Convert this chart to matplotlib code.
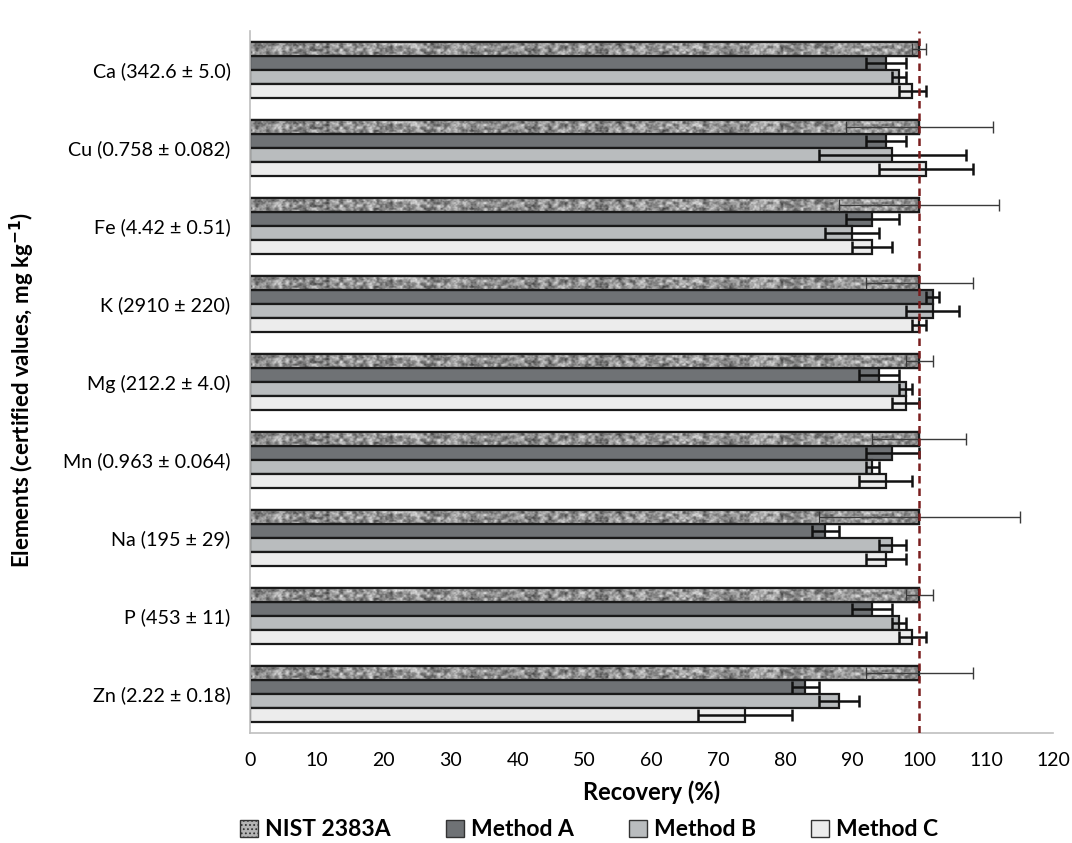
import numpy as np
import matplotlib
matplotlib.use("Agg")
import matplotlib.pyplot as plt
from matplotlib.patches import Patch, Rectangle

categories = ["Ca (342.6 ± 5.0)", "Cu (0.758 ± 0.082)", "Fe (4.42 ± 0.51)", "K (2910 ± 220)",
              "Mg (212.2 ± 4.0)", "Mn (0.963 ± 0.064)", "Na (195 ± 29)", "P (453 ± 11)",
              "Zn (2.22 ± 0.18)"]
series_names = ["NIST 2383A", "Method A", "Method B", "Method C"]
nist = [100, 100, 100, 100, 100, 100, 100, 100, 100]
nist_err = [1, 11, 12, 8, 2, 7, 15, 2, 8]
method_a = [95, 95, 93, 102, 94, 96, 86, 93, 83]
method_a_err = [3, 3, 4, 1, 3, 4, 2, 3, 2]
method_b = [97, 96, 90, 102, 98, 93, 96, 97, 88]
method_b_err = [1, 11, 4, 4, 1, 1, 2, 1, 3]
method_c = [99, 101, 93, 100, 98, 95, 95, 99, 74]
method_c_err = [2, 7, 3, 1, 2, 4, 3, 2, 7]
reference_line = 100

plt.rcParams['font.family'] = ['Lato', 'DejaVu Sans']
plt.rcParams['hatch.color'] = '#e0e0e0'
plt.rcParams['hatch.linewidth'] = 0.8


def hash_grid(h, w, seed):
    j, i = np.mgrid[0:h, 0:w].astype(float)
    v = np.sin(i * 127.1 + j * 311.7 + seed * 74.7) * 43758.5453
    return v - np.floor(v)


def upsample(g, H, W):
    h, w = g.shape
    ys = np.linspace(0, h - 1.001, H)
    xs = np.linspace(0, w - 1.001, W)
    y0 = np.floor(ys).astype(int)
    x0 = np.floor(xs).astype(int)
    fy = (ys - y0)[:, None]
    fx = (xs - x0)[None, :]
    fy = fy * fy * (3 - 2 * fy)
    fx = fx * fx * (3 - 2 * fx)
    a = g[y0][:, x0]
    b = g[y0][:, x0 + 1]
    c = g[y0 + 1][:, x0]
    d = g[y0 + 1][:, x0 + 1]
    return a * (1 - fx) * (1 - fy) + b * fx * (1 - fy) + c * (1 - fx) * fy + d * fx * fy


# texture (style only): bar is ~14 px tall x 670 px wide
TH, TW = 28, 1340
tex = (0.55 * upsample(hash_grid(6, 200, 1), TH, TW)
       + 0.30 * upsample(hash_grid(11, 400, 2), TH, TW)
       + 0.15 * upsample(hash_grid(20, 700, 3), TH, TW))
tex = (tex - tex.min()) / (tex.max() - tex.min())

fig = plt.figure(figsize=(10.72, 8.43), dpi=100)
ax = fig.add_axes([250/1072, (843-733)/843, 803/1072, 702/843])

n = len(categories)
y = np.arange(n)
bh = 0.18
offsets = [-0.27, -0.09, 0.09, 0.27]
values = [nist, method_a, method_b, method_c]
errs = [nist_err, method_a_err, method_b_err, method_c_err]
colors = ['#a8a8a8', '#6f7275', '#b9bcbe', '#ececec']

for k in range(4):
    bars = ax.barh(y + offsets[k], values[k], height=bh, color=colors[k],
                   edgecolor='#1a1a1a', linewidth=1.6, zorder=2)
    if k == 0:
        for b in bars:
            x0, y0 = b.get_x(), b.get_y()
            im = ax.imshow(tex, cmap='gray', vmin=-0.25, vmax=1.05, aspect='auto',
                           extent=[x0, x0 + b.get_width(), y0 + b.get_height(), y0],
                           zorder=2.1, interpolation='bilinear')
            im.set_clip_path(b)
            ax.add_patch(Rectangle((x0, y0), b.get_width(), b.get_height(), fill=False,
                                   edgecolor='#1a1a1a', linewidth=1.6, zorder=2.2))
        ax.errorbar(values[k], y + offsets[k], xerr=errs[k], fmt='none', ecolor='#3a3a3a',
                    elinewidth=1.0, capsize=4, capthick=1.0, zorder=3)
    else:
        ax.errorbar(values[k], y + offsets[k], xerr=errs[k], fmt='none', ecolor='#111111',
                    elinewidth=1.8, capsize=4, capthick=1.8, zorder=3)

ax.axvline(reference_line, color='#7b1e1e', linestyle=(0, (3, 2)), linewidth=1.8, zorder=4)

ax.set_xlim(0, 120)
ax.set_ylim(n - 0.5, -0.5)
ax.set_xticks(np.arange(0, 121, 10))
ax.set_yticks(y)
ax.set_yticklabels(categories, fontsize=14.2)
ax.tick_params(axis='x', labelsize=14, length=0, pad=14)
ax.tick_params(axis='y', length=0, pad=14)
for s in ['top', 'right']:
    ax.spines[s].set_visible(False)
for s in ['left', 'bottom']:
    ax.spines[s].set_color('#bfbfbf')
    ax.spines[s].set_linewidth(1.2)

ax.set_xlabel("Recovery (%)", fontsize=17, fontweight='bold', labelpad=8)
fig.text(22/1072, 1 - 390/843, "Elements (certified values, mg kg$^{\\mathbf{-1}}$)", rotation=90,
         fontsize=16, fontweight='bold', ha='center', va='center')

handles = [Patch(facecolor='#b4b4b4', edgecolor='#333333', hatch='....', linewidth=1.0),
           Patch(facecolor=colors[1], edgecolor='#333333', linewidth=1.0),
           Patch(facecolor=colors[2], edgecolor='#333333', linewidth=1.0),
           Patch(facecolor=colors[3], edgecolor='#333333', linewidth=1.0)]
fig.legend(handles, series_names, loc='center', bbox_to_anchor=(589/1072, 1 - 830/843), ncol=4,
           frameon=False, prop={'weight': 'bold', 'size': 16.5}, handlelength=0.8, handleheight=0.8,
           handletextpad=0.3, columnspacing=2.4)

fig.savefig("out.png", dpi=100)
